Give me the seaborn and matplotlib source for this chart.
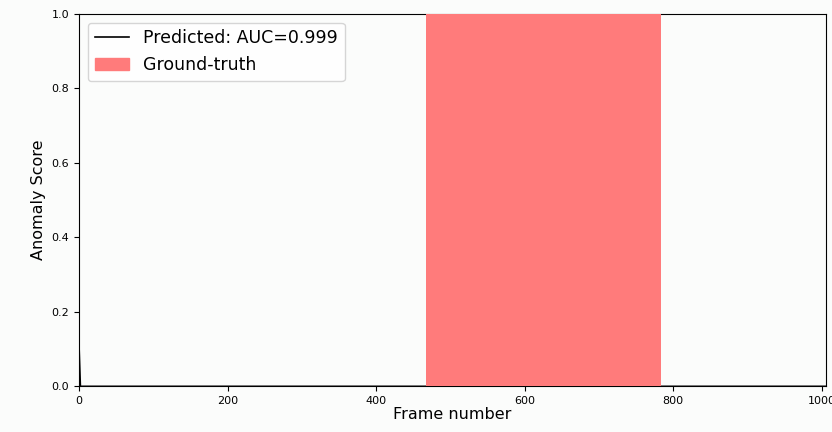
import matplotlib
matplotlib.use("Agg")
import matplotlib.pyplot as plt
import seaborn as sns
import pandas as pd
from matplotlib.patches import Patch
from matplotlib.lines import Line2D

# Data
frames = [0, 2, 470, 471, 780, 781, 1006]
scores = [0.12, 0.0, 0.0, 1.0, 1.0, 0.0, 0.0]
gt_start = 467
gt_end = 784
n_frames = 1006
auc = 0.999

df = pd.DataFrame({"Frame number": frames, "Anomaly Score": scores})

fig = plt.figure(figsize=(8.32, 4.32), dpi=100)
ax = fig.add_axes([0.095, 0.106, 0.898, 0.862])
sns.lineplot(data=df, x="Frame number", y="Anomaly Score", ax=ax,
             color="black", linewidth=1.0, zorder=2)
ax.axvspan(gt_start, gt_end, color="#ff7b7b", zorder=3, lw=0)
ax.set_xlim(0, n_frames)
ax.set_ylim(0, 1)
ax.set_xlabel("Frame number", fontsize=11.5, labelpad=1)
ax.set_ylabel("Anomaly Score", fontsize=11.5)
ax.tick_params(labelsize=8)
ax.set_facecolor("#fbfcfb")
fig.patch.set_facecolor("#fbfcfb")
handles = [Line2D([0], [0], color="black", lw=1.2),
           Patch(color="#ff7b7b")]
ax.legend(handles, [f"Predicted: AUC={auc}", "Ground-truth"],
          loc="upper left", fontsize=12.5)
fig.savefig("out.png", dpi=100, facecolor=fig.get_facecolor())
